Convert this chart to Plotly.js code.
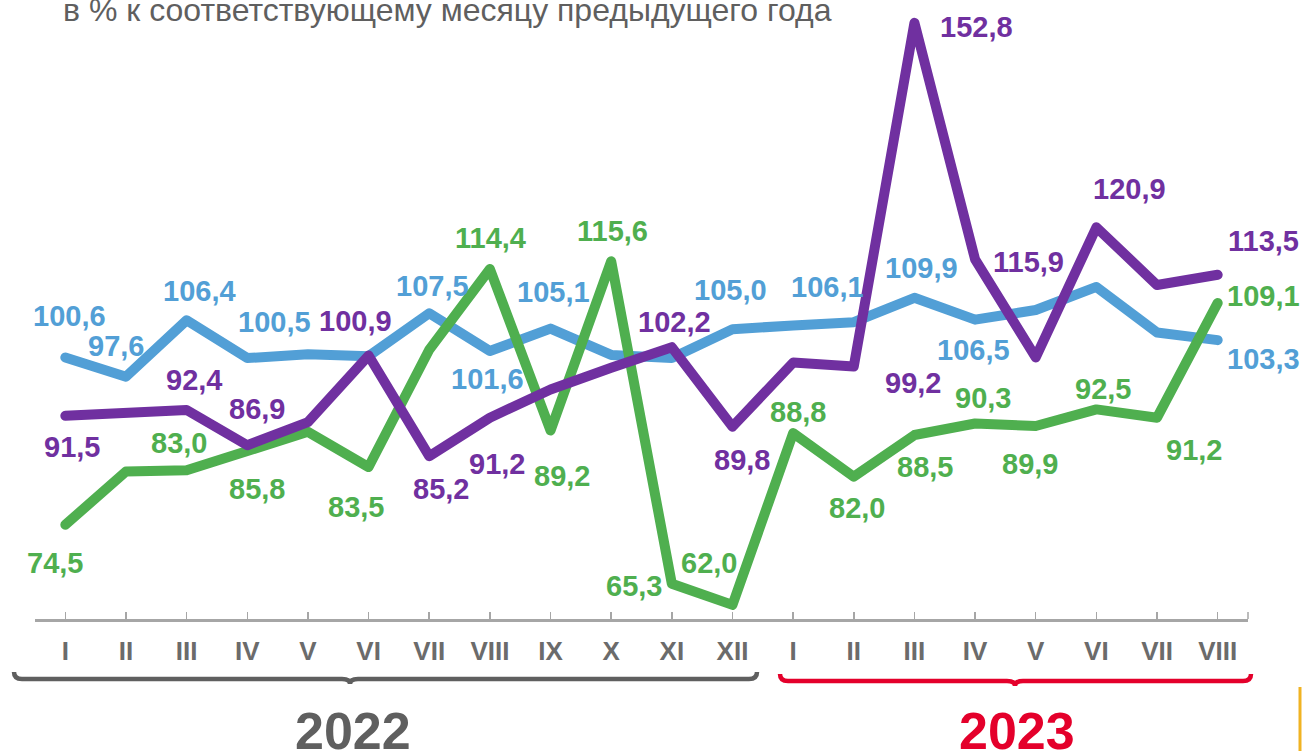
<!DOCTYPE html>
<html><head><meta charset="utf-8">
<script src="https://cdn.plot.ly/plotly-3.0.1.min.js"></script>
<style>
html,body{margin:0;padding:0;background:#fff;}
#chart{width:1304px;height:751px;}
.js-line{stroke-linejoin:round;stroke-linecap:round;}
</style></head><body><div id="chart"></div>
<script>
// ---- data ----
const months = ['I','II','III','IV','V','VI','VII','VIII','IX','X','XI','XII','I','II','III','IV','V','VI','VII','VIII'];
const years = ['2022','2023'];
const subtitle = 'в % к соответствующему месяцу предыдущего года';
const seriesBlue   = [100.6, 97.6, 106.4, 100.5, 101.1, 100.8, 107.5, 101.6, 105.1, 101.0, 100.5, 105.0, 105.6, 106.1, 109.9, 106.5, 108.0, 111.6, 104.5, 103.3];
const seriesGreen  = [74.5, 82.8, 83.0, 85.8, 89.0, 83.5, 101.8, 114.4, 89.2, 115.6, 65.3, 62.0, 88.8, 82.0, 88.5, 90.3, 89.9, 92.5, 91.2, 109.1];
const seriesPurple = [91.5, 91.8, 92.4, 86.9, 90.5, 100.9, 85.2, 91.2, 95.6, 99.0, 102.2, 89.8, 99.8, 99.2, 152.8, 115.9, 100.6, 120.9, 111.9, 113.5];

// ---- style / layout config ----
const colors = {blue:'#529FD6', green:'#4FAF4F', purple:'#7030A0'};
// label placement: point index -> [dx, dy] pixel offset of label centre (dy downward)
const labelPos = {
  blue:   {0:[4,-41],1:[-10,-31],2:[13,-29],3:[27,-36],6:[3,-27],7:[-2,28],8:[3,-37],11:[-2,-39],13:[-26,-35],14:[7,-30],15:[-2,30],19:[46,19]},
  purple: {0:[7,31],2:[7,-30],3:[10,-36],5:[-13,-35],6:[12,33],7:[7,46],10:[3,-25],11:[10,33],13:[59,17],14:[62,4],15:[53,3],17:[33,-38],19:[46,-34]},
  green:  {0:[-10,38],2:[-8,-27],3:[10,37],5:[-13,40],7:[1,-31],8:[11,45],9:[1,-30],10:[-38,2],11:[-23,-42],12:[5,-21],13:[3,31],14:[11,32],15:[8,-25],16:[-6,38],17:[7,-20],18:[37,32],19:[46,-7]}
};
const FONT = 'Arial, "Liberation Sans", sans-serif';
const W=1304, H=751, ML=35, MR=56, MT=10, MB=132;
const PW = W-ML-MR, PH = H-MT-MB;
const px = x => (x-ML)/PW;
const py = y => (H-MB-y)/PH;

const xs = months.map((_, i) => i);
const seriesList = [
  {key:'blue', y:seriesBlue},
  {key:'green', y:seriesGreen},
  {key:'purple', y:seriesPurple}
];
const traces = seriesList.map(s => ({
  x: xs, y: s.y, type:'scatter', mode:'lines',
  line:{color:colors[s.key], width:10},
  hoverinfo:'skip', showlegend:false
}));

const fmt = v => v.toFixed(1).replace('.', ',');
const annotations = [];
seriesList.forEach(s => {
  Object.entries(labelPos[s.key]).forEach(([i, off]) => {
    i = +i;
    annotations.push({
      x: xs[i], y: s.y[i], xref:'x', yref:'y',
      text: fmt(s.y[i]), showarrow:false,
      xanchor:'center', yanchor:'middle',
      xshift: off[0], yshift: -off[1],
      font:{family:FONT, size:29, color:colors[s.key], weight:700}
    });
  });
});
// subtitle
annotations.push({x:px(61), y:py(10), xref:'paper', yref:'paper', xanchor:'left', yanchor:'middle',
  text: subtitle, showarrow:false, font:{family:FONT, size:32, color:'#5f5f5f'}});
// years
annotations.push({x:px(353), y:py(731), xref:'paper', yref:'paper', xanchor:'center', yanchor:'middle',
  text: years[0], showarrow:false, font:{family:FONT, size:52, color:'#5f5f5f', weight:700}});
annotations.push({x:px(1017), y:py(731), xref:'paper', yref:'paper', xanchor:'center', yanchor:'middle',
  text: years[1], showarrow:false, font:{family:FONT, size:52, color:'#E4002B', weight:700}});

function brace(x0, x1, xm, y, color) {
  const P = (a, b) => px(a) + ',' + py(b);
  const d = 'M' + P(x0, y-7) + ' Q' + P(x0, y) + ' ' + P(x0+8, y) +
            ' L' + P(xm-8, y) + ' Q' + P(xm, y) + ' ' + P(xm, y+5) +
            ' Q' + P(xm, y) + ' ' + P(xm+8, y) +
            ' L' + P(x1-8, y) + ' Q' + P(x1, y) + ' ' + P(x1, y-7);
  return {type:'path', xref:'paper', yref:'paper', path:d, line:{color:color, width:4.5}};
}
const shapes = [
  brace(14, 757, 350, 679, '#5f5f5f'),
  brace(780, 1251, 1015, 681, '#E4002B'),
  {type:'line', xref:'paper', yref:'paper', x0:px(1248), x1:px(1248), y0:py(619), y1:py(612), line:{color:'#a6a6a6', width:1.5}},
  {type:'line', xref:'paper', yref:'paper', x0:px(1300), x1:px(1300), y0:py(687), y1:py(751), line:{color:'#F0B323', width:3}}
];

const layout = {
  width:W, height:H,
  margin:{l:ML, r:MR, t:MT, b:MB, pad:0},
  paper_bgcolor:'#ffffff', plot_bgcolor:'#ffffff',
  showlegend:false,
  xaxis:{type:'linear', range:[-0.5, 19.5], tickvals:xs, ticktext:months,
    ticks:'inside', ticklen:7, tickwidth:1.5, tickcolor:'#a6a6a6',
    showline:true, linecolor:'#a6a6a6', linewidth:2.5,
    showgrid:false, zeroline:false, ticklabelstandoff:7,
    tickfont:{family:FONT, size:26, color:'#6b6b6b', weight:700}, fixedrange:true},
  yaxis:{range:[59.8, 154.8], visible:false, showgrid:false, zeroline:false, fixedrange:true},
  annotations: annotations,
  shapes: shapes
};
Plotly.newPlot('chart', traces, layout, {staticPlot:true, displayModeBar:false});
</script></body></html>
